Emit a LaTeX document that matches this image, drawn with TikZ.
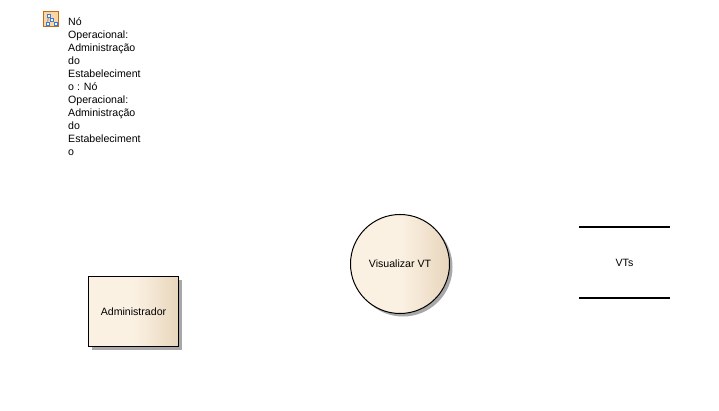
\documentclass[tikz,border=0pt]{standalone}
\usepackage{fontspec}
\setmainfont{Liberation Sans}
\definecolor{creamfill}{HTML}{FBF1E3}
\definecolor{tanfill}{HTML}{E8D6BC}
\definecolor{shadowgray}{HTML}{A8A8A8}
\definecolor{iconfill}{HTML}{F8D8A0}
\definecolor{iconedge}{HTML}{C06A20}
\definecolor{iconblue}{HTML}{3C78E0}
\tikzset{
  every node/.style={font=\fontsize{10.6}{13}\selectfont,text=black},
  element/.style={draw=black,line width=1pt,left color=creamfill,right color=tanfill,middle color=creamfill,inner sep=0pt},
  iconpart/.style={draw=iconblue,fill=white,line width=0.7pt,minimum size=3pt,inner sep=0pt}
}
\begin{document}
\begin{tikzpicture}[x=1pt,y=-1pt]
    \useasboundingbox (0,0) rectangle (719,411);

    % shadows
    \fill[shadowgray] (91.5,279.5) rectangle (181.5,349.5);
    \fill[shadowgray] (403,267) circle (49.5pt);

    \node[element,minimum width=90pt,minimum height=70pt,text depth=0pt] (admin) at (133.5,311.5) {Administrador\hspace{1pt}};
    \node[element,circle,minimum size=99pt] (visualizar) at (400,264) {Visualizar VT};

    \node[minimum width=91pt,minimum height=70pt,inner sep=0pt] (VTs) at (624.5,262.5) {VTs};
    \draw[line width=2pt] (VTs.north west) -- (VTs.north east);
    \draw[line width=2pt] (VTs.south west) -- (VTs.south east);

    % icon
    \node[draw=iconedge,fill=iconfill,line width=1pt,minimum size=15pt,inner sep=0pt] (icon) at (51,19.5) {};
    \node[iconpart] (iconA) at (48.5,15.5) {};
    \node[iconpart] (iconB) at (47.5,23.5) {};
    \node[iconpart] (iconC) at (52,20) {};
    \node[iconpart] (iconD) at (55.5,23.5) {};
    \draw[iconblue,line width=0.7pt] (iconA) -- (iconC) (iconA) -- (iconB) (iconC) -- (iconD);

    \node[anchor=north west,inner sep=0pt,align=left] (title) at (68,17.5) {Nó\\Operacional:\\Administração\\do\\Estabeleciment\\o : Nó\\Operacional:\\Administração\\do\\Estabeleciment\\o};
\end{tikzpicture}
\end{document}
